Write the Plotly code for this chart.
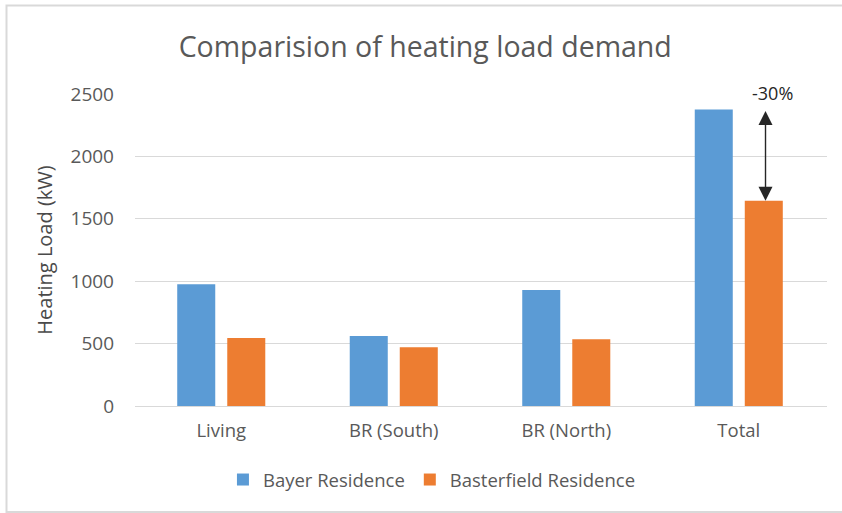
import plotly.graph_objects as go

# Heating load per zone (kW)
categories = ["Living", "BR (South)", "BR (North)", "Total"]
bayer = [975, 560, 930, 2375]
basterfield = [545, 470, 535, 1645]
series_names = ["Bayer Residence", "Basterfield Residence"]
y_ticks = [0, 500, 1000, 1500, 2000, 2500]
change_label = "-30%"

BLUE = "#5b9bd5"
ORANGE = "#ed7d31"
GRID = "#d9d9d9"
TEXT = "#595959"
FONT = "Open Sans"

fig = go.Figure()
fig.add_trace(go.Bar(x=categories, y=bayer, name=series_names[0], marker_color=BLUE,
                     marker_line_width=0))
fig.add_trace(go.Bar(x=categories, y=basterfield, name=series_names[1], marker_color=ORANGE,
                     marker_line_width=0))

# White patch over the top gridline behind the percentage label
fig.add_annotation(x=3.239, y=2500, xref="x", yref="y", text=" ", showarrow=False,
                   width=92, height=6, bgcolor="white", borderpad=0,
                   font=dict(size=2))

# Double-headed arrow between the two totals
xa = 3.155
fig.add_annotation(x=xa, y=basterfield[3], ax=xa, ay=bayer[3], xref="x", yref="y",
                   axref="x", ayref="y", text="", showarrow=True,
                   arrowhead=2, startarrowhead=2, arrowside="end+start",
                   arrowsize=2, startarrowsize=2, arrowwidth=1.4, arrowcolor="#262626",
                   standoff=0, startstandoff=0)
fig.add_annotation(x=xa, y=2500, xref="x", yref="y", text=change_label, showarrow=False,
                   xshift=7, yshift=1, yanchor="middle",
                   font=dict(family=FONT, size=18, color="#262626"))

# Outer chart frame
fig.add_shape(type="rect", xref="paper", yref="paper", x0=-0.1857, x1=1.06, y0=-0.3400, y1=1.2833,
              line=dict(color=GRID, width=2), fillcolor="rgba(0,0,0,0)")

fig.update_layout(
    width=842, height=513,
    margin=dict(l=135, r=15, t=94, b=107),
    paper_bgcolor="white", plot_bgcolor="white",
    font=dict(family=FONT, color=TEXT),
    title=dict(text="Comparision of heating load demand", x=0.505, xref="container",
               y=1 - 47 / 513, yref="container", xanchor="center", yanchor="middle",
               font=dict(family=FONT, size=28.5, color=TEXT)),
    barmode="group", bargap=0.42, bargroupgap=0.24,
    showlegend=True,
    legend=dict(orientation="h", x=0.513, xref="container", xanchor="center",
                y=1 - 480 / 513, yref="container", yanchor="middle",
                font=dict(family=FONT, size=18.5, color=TEXT), itemwidth=30,
                traceorder="normal"),
)
fig.update_xaxes(showgrid=False, showline=True, linecolor=GRID, linewidth=1,
                 tickfont=dict(family=FONT, size=18.5, color=TEXT), ticks="",
                 ticklabelstandoff=8)
fig.update_yaxes(range=[0, 2500], tickvals=y_ticks, showgrid=True, gridcolor=GRID, gridwidth=1,
                 zeroline=False, showline=False, ticks="",
                 tickfont=dict(family=FONT, size=19, color=TEXT), ticklabelstandoff=20,
                 title=dict(text="Heating Load (kW)", standoff=12,
                            font=dict(family=FONT, size=20, color="#4a4a4a")))

fig.write_html("out.html")
